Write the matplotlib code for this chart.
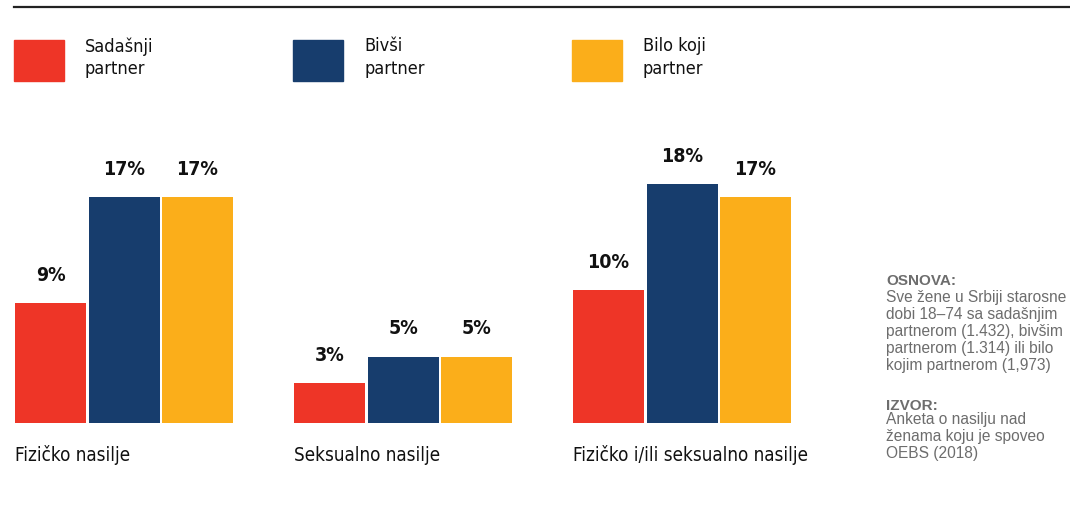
import numpy as np
import matplotlib.pyplot as plt
from matplotlib.patches import Rectangle
import matplotlib.transforms as mtransforms

# data
categories = ['Fizičko nasilje', 'Seksualno nasilje', 'Fizičko i/ili seksualno nasilje']
series = ['Sadašnji\npartner', 'Bivši\npartner', 'Bilo koji\npartner']
current = [9, 3, 10]
former = [17, 5, 18]
any_partner = [17, 5, 17]
colors = ['#EE3527', '#173D6D', '#FBAE1A']

osnova_title = 'OSNOVA:'
osnova_text = ('Sve žene u Srbiji starosne\ndobi 18–74 sa sadašnjim\n'
               'partnerom (1.432), bivšim\npartnerom (1.314) ili bilo\n'
               'kojim partnerom (1,973)')
izvor_title = 'IZVOR:'
izvor_text = 'Anketa o nasilju nad\nženama koju je spoveo\nOEBS (2018)'

W, H = 1070, 505
narrow = ['DejaVu Sans']
regular = ['Liberation Sans', 'DejaVu Sans']

fig = plt.figure(figsize=(W / 100, H / 100), dpi=100)
ax = fig.add_axes([0, 0, 1, 1])
ax.axis('off')

# one group = 279 px, baseline at 423 px from top, 13.3 px per percent
grp_px = 279.0
pct_px = 13.3
x0_px = 15.0
base_px = 423.0
ax.set_xlim(-x0_px / grp_px, (W - x0_px) / grp_px)
ax.set_ylim(-(H - base_px) / pct_px, base_px / pct_px)

bar_w = 71 / grp_px
bar_step = 73.5 / grp_px
x = np.arange(len(categories))

for k, vals in enumerate([current, former, any_partner]):
    xs = x + k * bar_step
    bars = ax.bar(xs, vals, width=bar_w, align='edge', color=colors[k], linewidth=0)
    for b, v in zip(bars, vals):
        ax.annotate(f'{v}%', (b.get_x() + b.get_width() / 2, v),
                    xytext=(0, 22), textcoords='offset pixels',
                    ha='center', va='baseline', fontsize=14,
                    fontweight='bold', family=narrow, stretch='condensed',
                    color='#111111')

for i, c in enumerate(categories):
    ax.annotate(c, (x[i], 0), xytext=(0, -38), textcoords='offset pixels',
                ha='left', va='baseline', fontsize=13.5, family=narrow,
                stretch='condensed', color='#111111')

# legend squares aligned with the groups
trans = mtransforms.blended_transform_factory(ax.transData, fig.transFigure)
for k, name in enumerate(series):
    ax.add_patch(Rectangle((x[k] - 1 / grp_px, 1 - 81 / H), 50 / grp_px, 41 / H,
                           transform=trans, color=colors[k], clip_on=False))
    ax.text(x[k] + 70 / grp_px, 1 - 37 / H, name, transform=trans,
            ha='left', va='top', fontsize=13, family=narrow,
            stretch='condensed', color='#111111', linespacing=1.35)

# top rule
fig.add_artist(plt.Line2D([14 / W, 1], [1 - 7 / H, 1 - 7 / H],
                          color='#222222', lw=1.6))

# side notes
fig.text(886 / W, 1 - 285 / H, osnova_title, fontsize=11, fontweight='bold',
         family=regular, color='#6d6d6d', va='baseline')
fig.text(886 / W, 1 - 290 / H, osnova_text, fontsize=11.2, family=regular,
         color='#6d6d6d', va='top', linespacing=1.16)
fig.text(886 / W, 1 - 410 / H, izvor_title, fontsize=11, fontweight='bold',
         family=regular, color='#6d6d6d', va='baseline')
fig.text(886 / W, 1 - 412 / H, izvor_text, fontsize=11.2, family=regular,
         color='#6d6d6d', va='top', linespacing=1.16)

fig.savefig('out.png', dpi=100)
